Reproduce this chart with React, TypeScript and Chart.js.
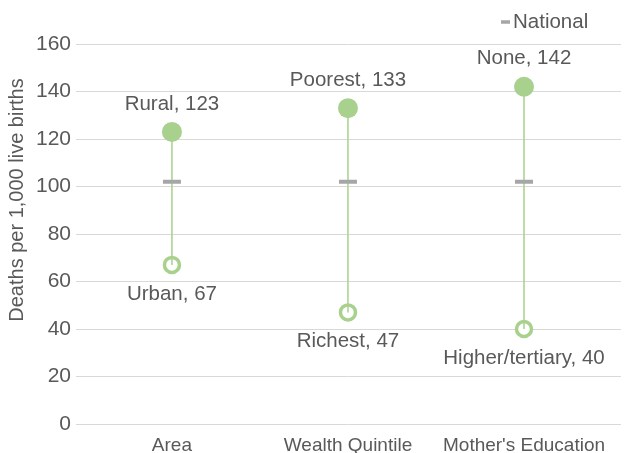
import React, { useEffect, useRef } from "react";
import { Chart, registerables } from "chart.js";

Chart.register(...registerables);

const categories = ["Area", "Wealth Quintile", "Mother's Education"];
const highNames = ["Rural", "Poorest", "None"];
const highValues = [123, 133, 142];
const lowNames = ["Urban", "Richest", "Higher/tertiary"];
const lowValues = [67, 47, 40];
const nationalValues = [102, 102, 102];
const yTicks = [0, 20, 40, 60, 80, 100, 120, 140, 160];
const yTitle = "Deaths per 1,000 live births";
const legendLabel = "National";

const GREEN = "#a9d18e";
const GREY = "#a6a6a6";
const TEXT = "#595959";
const FONT = "'Liberation Sans', Arial, sans-serif";

export default function App() {
  const ref = useRef<HTMLCanvasElement | null>(null);

  useEffect(() => {
    if (!ref.current) return;

    const connector: any[] = [];
    categories.forEach((_, i) => {
      connector.push({ x: i, y: highValues[i] });
      connector.push({ x: i, y: lowValues[i] });
      connector.push({ x: i + 0.5, y: null });
    });

    const labelPlugin = {
      id: "pointLabels",
      afterDatasetsDraw(chart: any) {
        const ctx = chart.ctx;
        ctx.save();
        ctx.font = `20.5px ${FONT}`;
        ctx.fillStyle = TEXT;
        ctx.textAlign = "center";
        ctx.textBaseline = "middle";
        const hi = chart.getDatasetMeta(3);
        const lo = chart.getDatasetMeta(2);
        hi.data.forEach((p: any, i: number) => {
          ctx.fillText(`${highNames[i]}, ${highValues[i]}`, p.x, p.y - 28);
        });
        lo.data.forEach((p: any, i: number) => {
          ctx.fillText(`${lowNames[i]}, ${lowValues[i]}`, p.x, p.y + 29);
        });

        // legend
        ctx.textAlign = "left";
        ctx.fillText(legendLabel, 513, 22);
        ctx.strokeStyle = GREY;
        ctx.lineWidth = 3.5;
        ctx.beginPath();
        ctx.moveTo(501, 22);
        ctx.lineTo(510, 22);
        ctx.stroke();

        // y-axis title
        ctx.textAlign = "center";
        ctx.font = `20px ${FONT}`;
        const ca = chart.chartArea;
        ctx.translate(17, ca.top + (ca.bottom - ca.top) / 2 - 34);
        ctx.rotate(-Math.PI / 2);
        ctx.fillText(yTitle, 0, 0);
        ctx.restore();
      },
    };

    const chart = new Chart(ref.current, {
      type: "line",
      data: {
        datasets: [
          {
            label: legendLabel,
            data: nationalValues.map((v, i) => ({ x: i, y: v })),
            showLine: false,
            pointStyle: "line",
            pointRadius: 9,
            pointHoverRadius: 9,
            pointBorderWidth: 4,
            pointBorderColor: GREY,
            pointBackgroundColor: GREY,
            borderColor: GREY,
            backgroundColor: GREY,
          },
          {
            label: "connector",
            data: connector,
            borderColor: GREEN,
            borderWidth: 1.5,
            pointRadius: 0,
            spanGaps: false,
          },
          {
            label: "low",
            data: lowValues.map((v, i) => ({ x: i, y: v })),
            showLine: false,
            pointRadius: 7.5,
            pointBorderWidth: 3.5,
            pointBorderColor: GREEN,
            pointBackgroundColor: "#ffffff",
          },
          {
            label: "high",
            data: highValues.map((v, i) => ({ x: i, y: v })),
            showLine: false,
            pointRadius: 10,
            pointBorderWidth: 0,
            pointBackgroundColor: GREEN,
            pointBorderColor: GREEN,
          },
        ],
      },
      options: {
        animation: false,
        responsive: false,
        layout: { autoPadding: false, padding: { top: 44, right: 6, left: 0, bottom: 0 } },
        plugins: {
          tooltip: { enabled: false },
          legend: { display: false },
        },
        scales: {
          x: {
            type: "linear",
            min: -0.545,
            max: 2.551,
            afterBuildTicks: (s: any) => {
              s.ticks = categories.map((_, i) => ({ value: i }));
            },
            afterFit: (s: any) => {
              s.height = 29;
              s.paddingLeft = 0;
              s.paddingRight = 0;
            },
            grid: { display: false },
            border: { display: false },
            ticks: {
              padding: 2,
              color: TEXT,
              font: { family: FONT, size: 19 },
              callback: (v: any) => categories[v] ?? "",
            },
          },
          y: {
            min: 0,
            max: 160,
            afterBuildTicks: (s: any) => {
              s.ticks = yTicks.map((v) => ({ value: v }));
            },
            afterFit: (s: any) => {
              s.width = 76;
              s.paddingTop = 0;
              s.paddingBottom = 0;
            },
            grid: { color: "#d9d9d9", lineWidth: 1, drawTicks: false },
            border: { display: false },
            ticks: {
              padding: 5,
              color: TEXT,
              font: { family: FONT, size: 21 },
            },
          },
        },
      },
      plugins: [labelPlugin],
    } as any);

    return () => chart.destroy();
  }, []);

  return (
    <div style={{ position: "fixed", left: 0, top: 0, width: 627, height: 453, background: "#fff" }}>
      <canvas ref={ref} width={627} height={453} style={{ display: "block" }} />
    </div>
  );
}
